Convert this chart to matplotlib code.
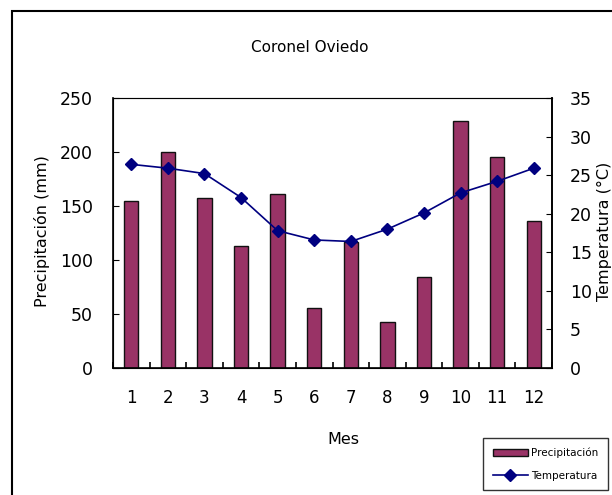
import numpy as np
import matplotlib
matplotlib.use("Agg")
from matplotlib import pyplot as plt
from matplotlib.patches import Rectangle

plt.rcParams['font.family'] = ['DejaVu Sans']

# ---- climate data, Coronel Oviedo ----
meses = [1, 2, 3, 4, 5, 6, 7, 8, 9, 10, 11, 12]
precipitacion = [155, 200, 157, 113, 161, 56, 117, 43, 84, 229, 195, 136]
temperatura = [26.4, 25.9, 25.2, 22.1, 17.8, 16.6, 16.4, 18.0, 20.1, 22.7, 24.2, 25.9]

fig = plt.figure(figsize=(6.12, 4.95), dpi=100)
W, H = 612, 495

# outer frame
fig.patches.append(Rectangle((12 / W, 0 - 0.01), 1.0, 1 - 11 / H + 0.01,
                             transform=fig.transFigure, fill=False,
                             edgecolor="black", linewidth=1.5))

ax = fig.add_axes([113 / W, 1 - 368 / H, (552 - 113) / W, (368 - 98) / H])
x = np.arange(len(meses))
ax.bar(x, precipitacion, width=0.39, color="#993366", edgecolor="#111111",
       linewidth=1.0, label="Precipitación", zorder=2)
ax.set_xlim(-0.5, len(meses) - 0.5)
ax.set_ylim(0, 250)
ax.set_yticks(np.arange(0, 251, 50))
ax.set_xticks(x)
ax.set_xticklabels([str(m) for m in meses])
ax.set_xticks(np.arange(-0.5, len(meses)), minor=True)
ax.tick_params(axis="x", which="major", length=0, pad=15, labelsize=12)
ax.tick_params(axis="x", which="minor", direction="in", length=4, width=1.2)
ax.tick_params(axis="y", direction="in", length=4, labelsize=12.5, pad=14.5)
for s in ["left", "bottom", "right", "top"]:
    ax.spines[s].set_linewidth(1.2)
ax.spines["top"].set_color("#888888")
ax.spines["top"].set_linewidth(0.8)

ax2 = ax.twinx()
ax2.plot(x, temperatura, color="#000080", marker="D", markersize=6,
         linewidth=1.2, label="Temperatura", zorder=3)
ax2.set_ylim(0, 35)
ax2.set_yticks(np.arange(0, 36, 5))
ax2.tick_params(axis="y", direction="in", length=4, labelsize=12.5, pad=13)
ax2.spines["right"].set_linewidth(1.2)

fig.text(310 / W, 1 - 47 / H, "Coronel Oviedo", ha="center", va="center", fontsize=11)
fig.text(343 / W, 1 - 440 / H, "Mes", ha="center", va="center", fontsize=11.5)
fig.text(42 / W, 1 - 231 / H, "Precipitación (mm)", rotation=90,
         ha="center", va="center", fontsize=11.5)
fig.text(604 / W, 1 - 231 / H, "Temperatura (°C)", rotation=90,
         ha="center", va="center", fontsize=11.5)

h1, l1 = ax.get_legend_handles_labels()
h2, l2 = ax2.get_legend_handles_labels()
leg = fig.legend(h1 + h2, l1 + l2, loc="upper left",
                 bbox_to_anchor=(478 / W, 1 - 433 / H), fontsize=7.5,
                 frameon=True, fancybox=False, edgecolor="black",
                 handlelength=3.4, handleheight=0.6, borderpad=0.9,
                 labelspacing=1.2, handletextpad=0.3)
leg.get_frame().set_linewidth(1.0)

fig.savefig("out.png", dpi=100)
